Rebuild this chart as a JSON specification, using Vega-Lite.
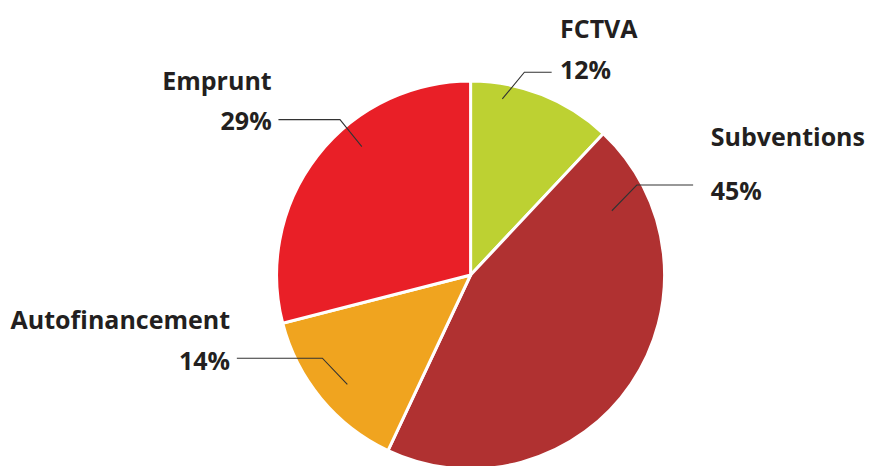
{
  "$schema": "https://vega.github.io/schema/vega-lite/v6.json",
  "width": 869,
  "height": 466,
  "padding": 0,
  "autosize": "none",
  "background": "white",
  "config": {"view": {"stroke": null}},
  "datasets": {
    "slices": [
      {"name": "FCTVA", "pct": 12, "ord": 1},
      {"name": "Subventions", "pct": 45, "ord": 2},
      {"name": "Autofinancement", "pct": 14, "ord": 3},
      {"name": "Emprunt", "pct": 29, "ord": 4}
    ],
    "leaders": [
      {"name": "FCTVA", "pt": 1, "x": 41.9, "y": 104.8},
      {"name": "FCTVA", "pt": 2, "x": 27.8, "y": 104.8},
      {"name": "FCTVA", "pt": 3, "x": 16.4, "y": 91.0},
      {"name": "Subventions", "pt": 1, "x": 115.0, "y": 46.5},
      {"name": "Subventions", "pt": 2, "x": 85.9, "y": 46.5},
      {"name": "Subventions", "pt": 3, "x": 73.0, "y": 33.2},
      {"name": "Autofinancement", "pt": 1, "x": -120.8, "y": -43.0},
      {"name": "Autofinancement", "pt": 2, "x": -76.6, "y": -43.0},
      {"name": "Autofinancement", "pt": 3, "x": -63.7, "y": -56.5},
      {"name": "Emprunt", "pt": 1, "x": -99.3, "y": 80.3},
      {"name": "Emprunt", "pt": 2, "x": -67.5, "y": 80.3},
      {"name": "Emprunt", "pt": 3, "x": -56.2, "y": 66.3}
    ],
    "labelsLeft": [
      {"text": "FCTVA", "x": 46.2, "y": 122.6},
      {"text": "12%", "x": 46.2, "y": 101.3},
      {"text": "Subventions", "x": 124.1, "y": 66.7},
      {"text": "45%", "x": 124.1, "y": 38.8}
    ],
    "labelsRight": [
      {"text": "Autofinancement", "x": -124.3, "y": -28.1},
      {"text": "14%", "x": -124.3, "y": -49.1},
      {"text": "Emprunt", "x": -102.8, "y": 95.6},
      {"text": "29%", "x": -102.8, "y": 74.9}
    ]
  },
  "resolve": {"scale": {"x": "shared", "y": "shared"}},
  "layer": [
    {
      "data": {"name": "slices"},
      "mark": {"type": "arc", "outerRadius": 194, "stroke": "white", "strokeWidth": 3},
      "encoding": {
        "x": {"datum": 0, "type": "quantitative", "scale": {"domain": [-243.2, 205.9], "nice": false, "zero": false}, "axis": null},
        "y": {"datum": 0, "type": "quantitative", "scale": {"domain": [-98.7, 142.1], "nice": false, "zero": false}, "axis": null},
        "theta": {"field": "pct", "type": "quantitative", "stack": true},
        "order": {"field": "ord", "type": "quantitative"},
        "color": {
          "field": "name",
          "type": "nominal",
          "scale": {
            "domain": ["FCTVA", "Subventions", "Autofinancement", "Emprunt"],
            "range": ["#BDD132", "#B03131", "#F0A41F", "#E91F27"]
          },
          "legend": null
        }
      }
    },
    {
      "data": {"name": "leaders"},
      "mark": {"type": "line", "color": "#333333", "strokeWidth": 1.1},
      "encoding": {
        "x": {"field": "x", "type": "quantitative", "axis": null},
        "y": {"field": "y", "type": "quantitative", "axis": null},
        "detail": {"field": "name"},
        "order": {"field": "pt", "type": "quantitative"}
      }
    },
    {
      "data": {"name": "labelsLeft"},
      "mark": {"type": "text", "align": "left", "baseline": "alphabetic", "font": "Open Sans", "fontWeight": "bold", "fontSize": 25, "color": "#231F20"},
      "encoding": {
        "x": {"field": "x", "type": "quantitative", "axis": null},
        "y": {"field": "y", "type": "quantitative", "axis": null},
        "text": {"field": "text"}
      }
    },
    {
      "data": {"name": "labelsRight"},
      "mark": {"type": "text", "align": "right", "baseline": "alphabetic", "font": "Open Sans", "fontWeight": "bold", "fontSize": 25, "color": "#231F20"},
      "encoding": {
        "x": {"field": "x", "type": "quantitative", "axis": null},
        "y": {"field": "y", "type": "quantitative", "axis": null},
        "text": {"field": "text"}
      }
    }
  ]
}
